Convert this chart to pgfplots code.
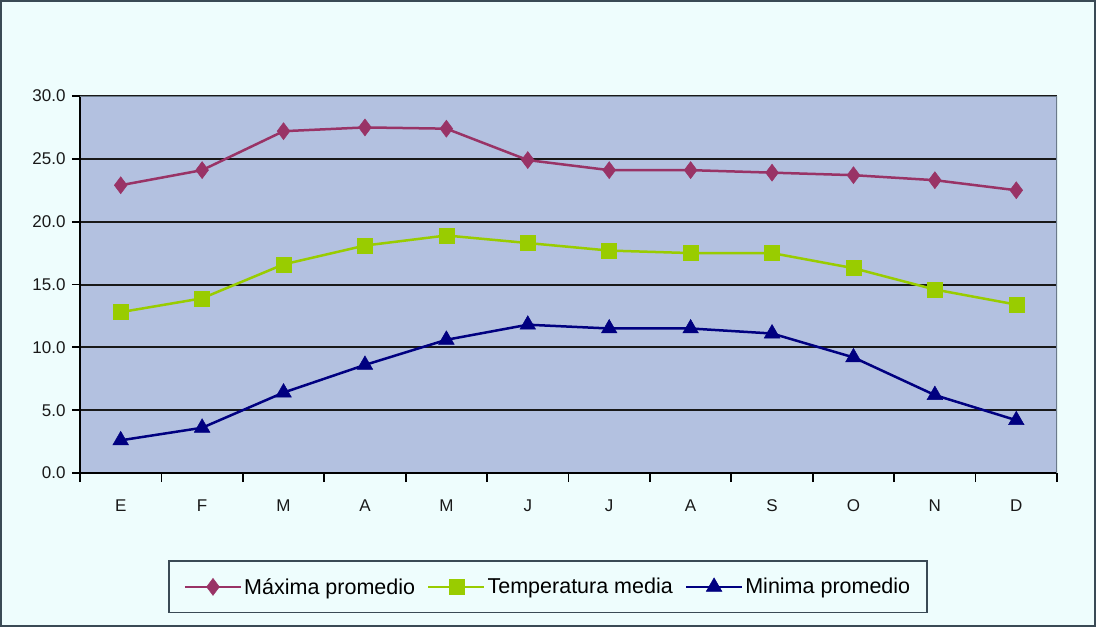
\documentclass[border=0pt]{standalone}
\usepackage{fontspec}
\setmainfont{Liberation Sans}
\usepackage{pgfplots}
\pgfplotsset{compat=1.18}
\definecolor{bg}{HTML}{EEFDFD}
\definecolor{plotbg}{HTML}{B3C1E0}
\definecolor{maxc}{HTML}{993366}
\definecolor{medc}{HTML}{99CC00}
\definecolor{minc}{HTML}{000080}
\definecolor{framec}{HTML}{3A4A55}
\definecolor{axisc}{HTML}{6A7A8A}
\begin{document}
\begin{tikzpicture}
\path[fill=bg] (0pt,0pt) rectangle (1096pt,627pt);
\draw[framec, line width=2pt] (1pt,1pt) rectangle (1095pt,626pt);
\begin{axis}[
  at={(80pt,154pt)}, anchor=south west,
  scale only axis, width=977pt, height=377pt,
  xmin=0.5, xmax=12.5, ymin=0, ymax=30,
  axis background/.style={fill=plotbg},
  axis x line*=bottom, axis y line*=left,
  axis line style={black, line width=2pt},
  xtick={1,...,12},
  xticklabels={E,F,M,A,M,J,J,A,S,O,N,D},
  major x tick style={draw=none},
  minor xtick={0.5,1.5,...,12.5},
  minor tick length=9pt,
  ytick={0,5,...,30},
  major tick length=8pt,
  tick align=outside,
  tick style={black, line width=1.8pt},
  ymajorgrids,
  major grid style={black!90, line width=2pt},
  /pgf/number format/.cd, fixed, fixed zerofill, precision=1, assume math mode=true,
  /pgfplots/.cd,
  tick label style={font=\fontsize{17}{19}\selectfont, text=black!90},
  yticklabel style={xshift=-3pt},
  xticklabel style={yshift=-15pt},
  legend style={at={(0.479,-0.302)}, anchor=center, legend columns=3,
    draw=framec, fill=bg, line width=1.8pt,
    font=\fontsize{21.5}{24}\selectfont, inner xsep=15pt, inner ysep=15pt,
    /tikz/every even column/.append style={column sep=10pt}},
  legend image code/.code={\draw[mark repeat=2,mark phase=2] plot coordinates {(0pt,0pt) (28pt,0pt) (56pt,0pt)};},
]
\addplot[maxc, line width=2.5pt, mark=diamond*, mark size=8.5pt, mark options={fill=maxc, line width=0.5pt}]
  coordinates {(1,22.9) (2,24.1) (3,27.2) (4,27.5) (5,27.4) (6,24.9) (7,24.1) (8,24.1) (9,23.9) (10,23.7) (11,23.3) (12,22.5)};
\addlegendentry{Máxima promedio}
\addplot[medc, line width=2.5pt, mark=square*, mark size=7.5pt, mark options={fill=medc, line width=0.5pt}]
  coordinates {(1,12.8) (2,13.9) (3,16.6) (4,18.1) (5,18.9) (6,18.3) (7,17.7) (8,17.5) (9,17.5) (10,16.3) (11,14.6) (12,13.4)};
\addlegendentry{Temperatura media}
\addplot[minc, line width=2.5pt, mark=triangle*, mark size=9pt, mark options={fill=minc, line width=0.5pt}]
  coordinates {(1,2.6) (2,3.6) (3,6.4) (4,8.6) (5,10.6) (6,11.8) (7,11.5) (8,11.5) (9,11.1) (10,9.2) (11,6.2) (12,4.2)};
\addlegendentry{Minima promedio}
\draw[axisc, line width=2pt] (rel axis cs:0,1) -- (rel axis cs:1,1) -- (rel axis cs:1,0);
\end{axis}
\end{tikzpicture}
\end{document}
